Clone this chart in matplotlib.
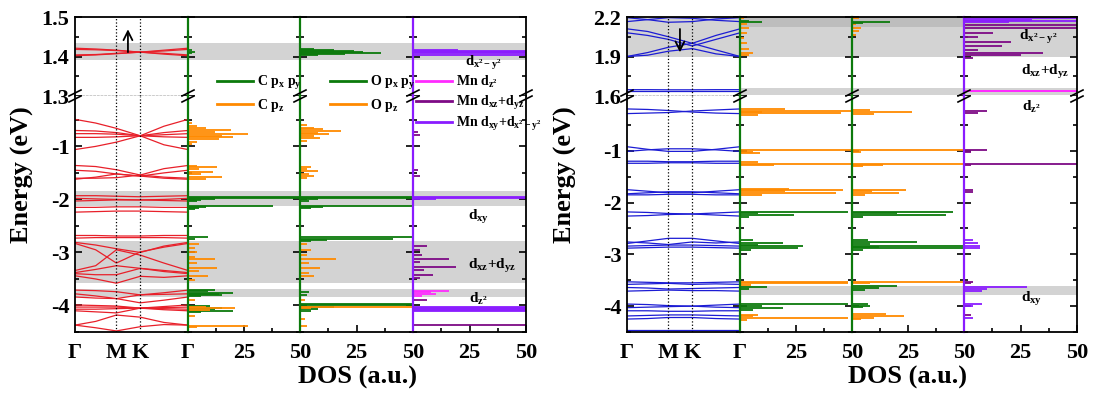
import matplotlib
matplotlib.use('Agg')
import matplotlib.pyplot as plt
from matplotlib.lines import Line2D

plt.rcParams['font.family'] = ['Liberation Serif', 'DejaVu Serif']
plt.rcParams['font.weight'] = 'bold'
plt.rcParams['mathtext.fontset'] = 'custom'
plt.rcParams['mathtext.rm'] = 'Liberation Serif:bold'
plt.rcParams['mathtext.it'] = 'Liberation Serif:bold'
plt.rcParams['mathtext.bf'] = 'Liberation Serif:bold'
plt.rcParams['mathtext.default'] = 'rm'
plt.rcParams['axes.unicode_minus'] = False

# k-path  G - M - K - G  (sample points along the path)
k_pts = [0, 0.5, 1.0, 1.577, 2.15, 2.732]
k_ticks = [0, 1.0, 1.577, 2.732]
k_labels = ['Γ', 'M', 'K', 'Γ']

# ---- left system: bands (eV) at k_pts ----
left_bands_top = [
    [1.421, 1.419, 1.416, 1.411, 1.406, 1.402],
    [1.402, 1.404, 1.407, 1.411, 1.416, 1.421],
    [1.418, 1.417, 1.415, 1.411, 1.414, 1.418],
    [1.404, 1.405, 1.408, 1.411, 1.408, 1.404],
]
left_bands_bot = [
    [-0.49, -0.56, -0.66, -0.80, -0.62, -0.49],
    [-0.70, -0.71, -0.74, -0.80, -0.74, -0.70],
    [-0.76, -0.76, -0.77, -0.80, -0.78, -0.76],
    [-0.83, -0.83, -0.82, -0.80, -0.82, -0.83],
    [-1.06, -1.00, -0.92, -0.80, -0.97, -1.06],
    [-1.36, -1.38, -1.44, -1.54, -1.42, -1.36],
    [-1.45, -1.47, -1.52, -1.56, -1.50, -1.45],
    [-1.62, -1.58, -1.52, -1.56, -1.60, -1.62],
    [-1.60, -1.60, -1.59, -1.54, -1.58, -1.60],
    [-1.93, -1.93, -1.94, -1.95, -1.94, -1.93],
    [-1.98, -1.99, -2.00, -2.01, -2.00, -1.98],
    [-2.03, -2.02, -2.01, -2.01, -2.02, -2.03],
    [-2.15, -2.15, -2.14, -2.14, -2.15, -2.15],
    [-2.24, -2.23, -2.22, -2.22, -2.23, -2.24],
    [-2.68, -2.68, -2.69, -2.69, -2.68, -2.68],
    [-2.73, -2.72, -2.72, -2.72, -2.72, -2.73],
    [-2.81, -2.86, -2.93, -3.00, -2.88, -2.81],
    [-2.83, -2.95, -3.20, -2.99, -2.90, -2.83],
    [-3.34, -3.25, -2.95, -3.05, -3.20, -3.34],
    [-3.38, -3.32, -3.25, -3.30, -3.34, -3.38],
    [-3.40, -3.42, -3.42, -3.30, -3.36, -3.40],
    [-3.44, -3.50, -3.58, -3.45, -3.47, -3.44],
    [-3.71, -3.72, -3.74, -3.80, -3.76, -3.71],
    [-3.78, -3.82, -3.87, -3.80, -3.79, -3.78],
    [-3.84, -3.86, -3.87, -3.95, -3.90, -3.84],
    [-3.99, -4.00, -4.01, -4.05, -4.02, -3.99],
    [-4.03, -4.03, -4.03, -4.05, -4.04, -4.03],
    [-4.07, -4.07, -4.06, -4.05, -4.06, -4.07],
    [-4.10, -4.12, -4.14, -4.05, -4.08, -4.10],
    [-4.37, -4.30, -4.18, -4.22, -4.32, -4.37],
    [-4.37, -4.42, -4.48, -4.40, -4.36, -4.37],
]

# ---- right system: bands ----
right_bands_top = [
    [2.195, 2.180, 2.160, 2.165, 2.185, 2.195],
    [2.165, 2.180, 2.195, 2.190, 2.175, 2.165],
    [2.11, 2.09, 2.05, 2.00, 2.06, 2.11],
    [2.08, 2.06, 2.03, 1.98, 2.03, 2.08],
    [1.90, 1.93, 1.97, 2.00, 1.95, 1.90],
    [1.90, 1.91, 1.94, 1.96, 1.92, 1.90],
    [1.640, 1.640, 1.640, 1.640, 1.640, 1.640],
    [1.648, 1.648, 1.647, 1.647, 1.648, 1.648],
]
right_bands_bot = [
    [-0.19, -0.20, -0.22, -0.25, -0.27, -0.28],
    [-0.28, -0.27, -0.26, -0.23, -0.21, -0.19],
    [-0.92, -0.97, -1.01, -1.01, -0.97, -0.92],
    [-1.01, -0.98, -0.96, -0.96, -0.98, -1.01],
    [-1.20, -1.20, -1.21, -1.21, -1.20, -1.20],
    [-1.24, -1.24, -1.23, -1.23, -1.24, -1.24],
    [-1.75, -1.78, -1.81, -1.81, -1.78, -1.75],
    [-1.83, -1.81, -1.79, -1.79, -1.81, -1.83],
    [-1.85, -1.85, -1.84, -1.84, -1.85, -1.85],
    [-2.18, -2.19, -2.21, -2.22, -2.20, -2.18],
    [-2.26, -2.25, -2.23, -2.22, -2.24, -2.26],
    [-2.79, -2.74, -2.69, -2.69, -2.74, -2.79],
    [-2.76, -2.78, -2.81, -2.76, -2.78, -2.76],
    [-2.84, -2.83, -2.82, -2.82, -2.83, -2.84],
    [-2.88, -2.87, -2.86, -2.86, -2.87, -2.88],
    [-3.53, -3.54, -3.55, -3.55, -3.54, -3.53],
    [-3.58, -3.57, -3.56, -3.58, -3.57, -3.58],
    [-3.64, -3.65, -3.67, -3.66, -3.65, -3.64],
    [-3.71, -3.70, -3.69, -3.70, -3.70, -3.71],
    [-3.96, -3.97, -3.99, -4.00, -3.98, -3.96],
    [-4.03, -4.02, -4.01, -4.00, -4.02, -4.03],
    [-4.09, -4.09, -4.10, -4.10, -4.09, -4.09],
    [-4.19, -4.18, -4.17, -4.17, -4.18, -4.19],
    [-4.25, -4.24, -4.22, -4.22, -4.24, -4.25],
    [-4.47, -4.47, -4.47, -4.47, -4.47, -4.47],
]

# ---- DOS peaks: (energy eV, DOS a.u.) ----
L_C_pxpy = [(1.416, 2), (1.412, 3), (1.408, 2), (-1.95, 60), (-1.97, 60), (-1.99, 12),
            (-2.01, 6), (-2.03, 4), (-2.12, 38), (-2.14, 8), (-2.17, 5), (-2.19, 3),
            (-2.71, 9), (-2.74, 3), (-3.70, 12), (-3.73, 9), (-3.76, 20), (-3.78, 14),
            (-3.80, 15), (-3.83, 6), (-4.01, 10), (-4.04, 15), (-4.07, 12), (-4.10, 20), (-4.12, 6)]
L_C_pz = [(-0.55, 2), (-0.62, 4), (-0.66, 8), (-0.70, 19), (-0.73, 12), (-0.77, 27),
          (-0.80, 15), (-0.83, 20), (-0.87, 14), (-0.91, 4), (-0.96, 2), (-1.37, 4),
          (-1.39, 13), (-1.43, 5), (-1.48, 11), (-1.52, 6), (-1.58, 15), (-1.62, 8),
          (-2.85, 5), (-2.92, 3), (-3.00, 4), (-3.08, 3), (-3.12, 12), (-3.20, 4),
          (-3.30, 13), (-3.35, 5), (-3.45, 9), (-3.52, 3), (-3.90, 3), (-4.02, 8),
          (-4.05, 21), (-4.08, 10), (-4.20, 3), (-4.38, 27), (-4.40, 4)]
L_O_pxpy = [(1.403, 8), (1.406, 20), (1.408, 36), (1.411, 28), (1.414, 24), (1.417, 15),
            (1.420, 6), (-1.95, 60), (-1.97, 60), (-2.00, 8), (-2.03, 4), (-2.12, 60),
            (-2.14, 10), (-2.17, 5), (-2.71, 60), (-2.74, 41), (-2.76, 12), (-2.79, 5),
            (-3.75, 4), (-3.80, 3), (-3.98, 60), (-4.00, 60), (-4.03, 15), (-4.07, 8), (-4.10, 5)]
L_O_pz = [(-0.60, 3), (-0.65, 6), (-0.68, 10), (-0.71, 18), (-0.74, 8), (-0.77, 13),
          (-0.80, 6), (-0.84, 9), (-0.90, 3), (-1.38, 5), (-1.42, 3), (-1.47, 8),
          (-1.52, 4), (-1.56, 6), (-1.60, 3), (-2.85, 3), (-2.95, 5), (-3.05, 3),
          (-3.12, 16), (-3.20, 4), (-3.30, 9), (-3.38, 4), (-3.45, 6), (-3.90, 2),
          (-4.02, 60), (-4.05, 5), (-4.25, 2), (-4.38, 3)]
L_Mn_dz2 = [(-3.72, 16), (-3.75, 8), (-3.78, 10), (-3.82, 4)]
L_Mn_dxz = [(-0.72, 2), (-0.78, 3), (-1.45, 2), (-1.55, 3), (-2.88, 6), (-2.95, 3),
            (-3.05, 4), (-3.12, 16), (-3.18, 3), (-3.28, 19), (-3.33, 5), (-3.42, 9),
            (-3.48, 3), (-3.90, 6), (-4.36, 60)]
L_Mn_dxy = [(1.405, 60), (1.408, 60), (1.411, 60), (1.414, 60), (1.417, 20),
            (-1.96, 60), (-1.98, 60), (-2.00, 10), (-4.02, 60), (-4.04, 60),
            (-4.06, 60), (-4.08, 60), (-4.10, 60)]

R_C_pxpy = [(2.165, 10), (2.170, 4), (-2.19, 48), (-2.21, 8), (-2.24, 24), (-2.27, 4),
            (-2.73, 6), (-2.78, 19), (-2.81, 8), (-2.84, 28), (-2.88, 26), (-2.91, 5),
            (-3.63, 12), (-3.66, 4), (-3.96, 48), (-3.99, 10), (-4.04, 19), (-4.07, 6)]
R_C_pz = [(2.19, 2), (2.15, 3), (2.12, 4), (2.08, 3), (2.04, 2), (2.00, 3), (1.96, 4),
          (1.93, 6), (1.91, 4), (-0.19, 20), (-0.23, 60), (-0.25, 10), (-0.27, 45),
          (-0.30, 8), (-0.99, 60), (-1.02, 6), (-1.04, 9), (-1.22, 8), (-1.25, 60),
          (-1.28, 15), (-1.73, 22), (-1.75, 46), (-1.78, 20), (-1.82, 43), (-1.85, 10),
          (-3.53, 48), (-3.56, 48), (-3.59, 5), (-4.17, 8), (-4.20, 6), (-4.23, 48), (-4.26, 3)]
R_O_pxpy = [(2.165, 17), (2.155, 5), (-2.19, 45), (-2.21, 20), (-2.24, 42), (-2.27, 5),
            (-2.73, 7), (-2.76, 29), (-2.80, 8), (-2.83, 60), (-2.86, 12), (-2.88, 60),
            (-2.91, 5), (-3.62, 20), (-3.65, 12), (-3.68, 6), (-3.96, 7), (-3.99, 8), (-4.02, 5)]
R_O_pz = [(2.19, 3), (2.15, 2), (2.12, 4), (2.09, 3), (2.06, 2), (-0.22, 8), (-0.25, 27),
          (-0.28, 10), (-0.99, 60), (-1.02, 4), (-1.25, 60), (-1.27, 14), (-1.30, 5),
          (-1.75, 24), (-1.78, 9), (-1.82, 21), (-1.85, 6), (-3.53, 60), (-3.56, 8),
          (-4.16, 15), (-4.19, 23), (-4.22, 10), (-4.25, 4)]
R_Mn_dz2 = [(1.640, 60), (1.635, 60)]
R_Mn_dxz = [(2.14, 60), (2.12, 60), (2.08, 13), (2.05, 6), (2.01, 21), (1.98, 17),
            (1.95, 6), (1.93, 35), (1.91, 25), (1.89, 4), (-0.23, 10), (-0.27, 6),
            (-0.99, 10), (-1.02, 3), (-1.25, 60), (-1.27, 3), (-1.76, 4), (-1.80, 4),
            (-3.53, 4), (-3.56, 3), (-4.18, 3)]
R_Mn_dxy = [(2.198, 60), (2.19, 60), (2.18, 30), (2.17, 60), (2.16, 20), (-2.72, 4),
            (-2.78, 6), (-2.83, 7), (-2.87, 7), (-3.63, 28), (-3.66, 10), (-3.70, 8),
            (-3.96, 8), (-4.00, 4), (-4.23, 4)]

GREEN = '#0c7a0c'
ORANGE = '#ff8a00'
MAGENTA = '#ff2bff'
PURPLE = '#7d0a85'
VIOLET = '#8a1cff'
GRAY = '#d3d3d3'

W, H = 1097, 394
Y_TOP, Y_BRK, Y_BOT = 17, 96, 332

fig = plt.figure(figsize=(W / 100, H / 100), dpi=100)


def draw_dos(ax, peaks, color):
    ax.hlines([p[0] for p in peaks], 0, [p[1] for p in peaks], colors=color, lw=1.3)


def panel(xs, top_lim, top_ticks, bot_lim, bands_top, bands_bot, bcolor, dos,
          spans_all, spans_dos):
    tops, bots = [], []
    for i in range(4):
        w = (xs[i + 1] - xs[i]) / W
        at = fig.add_axes([xs[i] / W, 1 - Y_BRK / H, w, (Y_BRK - Y_TOP) / H])
        ab = fig.add_axes([xs[i] / W, 1 - Y_BOT / H, w, (Y_BOT - Y_BRK) / H])
        at.set_ylim(*top_lim)
        ab.set_ylim(*bot_lim)
        at.set_yticks(top_ticks)
        step = top_ticks[1] - top_ticks[0]
        at.set_yticks([t + step / 2 for t in top_ticks[:-1]], minor=True)
        ab.set_yticks([-4, -3, -2, -1])
        ab.set_yticks([-4.5, -3.5, -2.5, -1.5, -0.5], minor=True)
        for a in (at, ab):
            a.tick_params(axis='y', which='both', direction='in', left=True, right=True,
                          labelsize=16, pad=4, width=1.2)
            a.tick_params(axis='y', which='major', length=5)
            a.tick_params(axis='y', which='minor', length=3)
            for s in a.spines.values():
                s.set_linewidth(1.3)
        at.spines['bottom'].set_visible(False)
        ab.spines['top'].set_visible(False)
        at.set_xticks([])
        spans = spans_all + (spans_dos if i > 0 else [])
        for lo, hi, c in spans:
            at.axhspan(lo, hi, color=c, lw=0, zorder=0)
            ab.axhspan(lo, hi, color=c, lw=0, zorder=0)
        if i == 0:
            for a, bands in ((at, bands_top), (ab, bands_bot)):
                a.set_xlim(0, k_pts[-1])
                for b in bands:
                    a.plot(k_pts, b, color=bcolor, lw=0.9)
                for kx in k_ticks[1:3]:
                    a.axvline(kx, color='k', ls=':', lw=0.9)
            at.spines['bottom'].set_visible(True)
            at.spines['bottom'].set_linestyle(':')
            at.spines['bottom'].set_linewidth(1.0)
            ab.set_xticks(k_ticks)
            ab.set_xticklabels(k_labels)
            ab.tick_params(axis='x', length=0, labelsize=16, pad=8)
        else:
            at.set_yticklabels([])
            ab.set_yticklabels([])
            col = dos[i - 1]
            for a in (at, ab):
                a.set_xlim(0, 50)
                for peaks, c in col['curves']:
                    draw_dos(a, peaks, c)
                a.spines['left'].set_color(col['spine'])
                a.spines['left'].set_linewidth(1.6)
            ab.set_xticks([25, 50])
            ab.set_xticklabels(['25', '50'])
            ab.set_xticks([12.5, 37.5], minor=True)
            ab.tick_params(axis='x', which='both', direction='in', labelsize=16, pad=8,
                           width=1.2)
            ab.tick_params(axis='x', which='major', length=5)
            ab.tick_params(axis='x', which='minor', length=3)
        tops.append(at)
        bots.append(ab)
    # break marks on every vertical boundary
    for x in xs:
        for dy in (-3, 3):
            fig.add_artist(Line2D([(x - 6) / W, (x + 6) / W],
                                  [1 - (Y_BRK + dy + 3) / H, 1 - (Y_BRK + dy - 3) / H],
                                  color='k', lw=1.2))
    return tops, bots


xs_left = [75, 188, 300, 413, 526]
xs_right = [627, 740, 852, 964, 1077]

dos_left = [
    {'spine': GREEN, 'curves': [(L_C_pxpy, GREEN), (L_C_pz, ORANGE)]},
    {'spine': GREEN, 'curves': [(L_O_pxpy, GREEN), (L_O_pz, ORANGE)]},
    {'spine': VIOLET, 'curves': [(L_Mn_dxy, VIOLET), (L_Mn_dxz, PURPLE), (L_Mn_dz2, MAGENTA)]},
]
dos_right = [
    {'spine': GREEN, 'curves': [(R_C_pz, ORANGE), (R_C_pxpy, GREEN)]},
    {'spine': GREEN, 'curves': [(R_O_pz, ORANGE), (R_O_pxpy, GREEN)]},
    {'spine': VIOLET, 'curves': [(R_Mn_dxz, PURPLE), (R_Mn_dxy, VIOLET), (R_Mn_dz2, MAGENTA)]},
]

lt, lb = panel(xs_left, (1.3, 1.5), [1.3, 1.4, 1.5], (-4.5, -0.05),
               left_bands_top, left_bands_bot, '#e8202a', dos_left,
               [(1.39, 1.435, GRAY), (-2.12, -1.85, GRAY), (-3.57, -2.78, GRAY),
                (-3.84, -3.68, GRAY)], [])
rt, rb = panel(xs_right, (1.6, 2.2), [1.6, 1.9, 2.2], (-4.5, 0.06),
               right_bands_top, right_bands_bot, '#1c1cd4', dos_right,
               [(1.9, 2.2, GRAY)],
               [(2.125, 2.2, '#bdbdbd'), (1.61, 1.66, GRAY), (-3.78, -3.62, GRAY)])

# spin arrows
lt[0].annotate('', xy=(1.28, 1.476), xytext=(1.28, 1.404),
               arrowprops=dict(arrowstyle='->', color='k', lw=1.3, mutation_scale=16))
rt[0].annotate('', xy=(1.28, 1.91), xytext=(1.28, 2.13),
               arrowprops=dict(arrowstyle='->', color='k', lw=1.3, mutation_scale=16))

# orbital labels
fs = 11
lt[3].text(31, 1.383, r'd$_{x^2-y^2}$', ha='center', va='center', fontsize=10.5)
lb[3].text(29, -2.33, r'd$_{xy}$', ha='center', va='center', fontsize=fs)
lb[3].text(35, -3.25, r'd$_{xz}$+d$_{yz}$', ha='center', va='center', fontsize=fs)
lb[3].text(29, -3.87, r'd$_{z^2}$', ha='center', va='center', fontsize=fs)
rt[3].text(33, 2.05, r'd$_{x^2-y^2}$', ha='center', va='center', fontsize=fs)
rt[3].text(36, 1.78, r'd$_{xz}$+d$_{yz}$', ha='center', va='center', fontsize=fs)
rb[3].text(30, -0.15, r'd$_{z^2}$', ha='center', va='center', fontsize=fs)
rb[3].text(30, -3.87, r'd$_{xy}$', ha='center', va='center', fontsize=fs)

# legends
h_c = [Line2D([], [], color=GREEN, lw=2), Line2D([], [], color=ORANGE, lw=2)]
fig.legend(h_c, ['C p$_x$ p$_y$', 'C p$_z$'], loc='upper left',
           bbox_to_anchor=(217 / W, 1 - 74 / H), frameon=False, fontsize=10,
           handlelength=2.6, handletextpad=0.3, labelspacing=0.35, borderpad=0,
           borderaxespad=0)
fig.legend(h_c, ['O p$_x$ p$_y$', 'O p$_z$'], loc='upper left',
           bbox_to_anchor=(330 / W, 1 - 74 / H), frameon=False, fontsize=10,
           handlelength=2.6, handletextpad=0.3, labelspacing=0.35, borderpad=0,
           borderaxespad=0)
h_mn = [Line2D([], [], color=MAGENTA, lw=2), Line2D([], [], color=PURPLE, lw=2),
        Line2D([], [], color=VIOLET, lw=2)]
fig.legend(h_mn, ['Mn d$_{z^2}$', 'Mn d$_{xz}$+d$_{yz}$', 'Mn d$_{xy}$+d$_{x^2-y^2}$'],
           loc='upper left', bbox_to_anchor=(416 / W, 1 - 74 / H), frameon=False,
           fontsize=10, handlelength=2.6, handletextpad=0.3, labelspacing=0.25,
           borderpad=0, borderaxespad=0)

# axis titles
for x in (22, 565):
    fig.text(x / W, 1 - 175 / H, 'Energy (eV)', rotation=90, ha='center', va='center',
             fontsize=19)
for x in (357, 908):
    fig.text(x / W, 1 - 377 / H, 'DOS (a.u.)', ha='center', va='center', fontsize=19)

plt.savefig('out.png', dpi=100)
